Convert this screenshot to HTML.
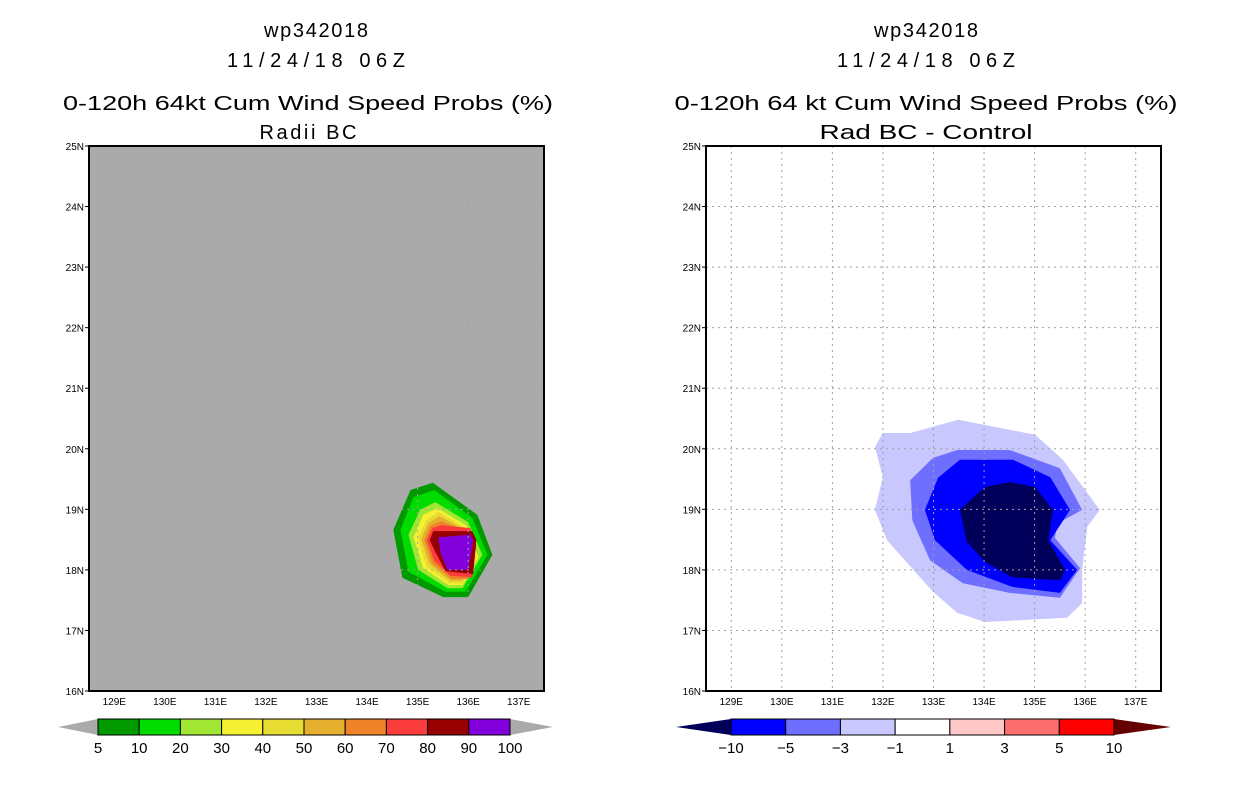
<!DOCTYPE html>
<html><head><meta charset="utf-8"><style>
html,body{margin:0;padding:0;background:#fff;}
svg{display:block;font-family:"Liberation Sans",sans-serif;}
</style></head><body>
<svg id="s" width="1236" height="800" viewBox="0 0 1236 800">
<g font-size="20" text-anchor="middle" fill="#000">
<text x="316" y="37" textLength="104">wp342018</text>
<text x="316" y="67" textLength="178">11/24/18 06Z</text>
<text x="308" y="110" textLength="490" lengthAdjust="spacingAndGlyphs">0-120h 64kt Cum Wind Speed Probs (%)</text>
<text x="308" y="139" textLength="97">Radii BC</text>
</g>
<g font-size="20" text-anchor="middle" fill="#000">
<text x="926" y="37" textLength="104">wp342018</text>
<text x="926" y="67" textLength="178">11/24/18 06Z</text>
<text x="926" y="110" textLength="503" lengthAdjust="spacingAndGlyphs">0-120h 64 kt Cum Wind Speed Probs (%)</text>
<text x="926" y="139" textLength="213" lengthAdjust="spacingAndGlyphs">Rad BC - Control</text>
</g>
<g id="L"></g>
<g id="R"></g>
</svg>
<script>
const lonTicks=[129,130,131,132,133,134,135,136,137];
const latTicks=[16,17,18,19,20,21,22,23,24,25];
const probLevels=[5,10,20,30,40,50,60,70,80,90,100];
const probColors=["#009a00","#00dc00","#a0e632","#f5f032","#e6dc32","#e6af2d","#f08228","#fa3c3c","#960000","#8200dc"];
// probability contour polygons [lon,lat]: area >= level
const prob5=[[135.3,19.44],[136.18,18.91],[136.48,18.25],[136.0,17.55],[135.51,17.55],[134.7,17.87],[134.52,18.66],[134.86,19.32]];
const prob10=[[135.33,19.32],[136.08,18.86],[136.38,18.25],[135.95,17.64],[135.55,17.64],[134.82,17.97],[134.66,18.66],[134.92,19.2]];
const prob20=[[135.35,19.12],[136.0,18.79],[136.28,18.25],[135.89,17.7],[135.59,17.7],[135.01,18.0],[134.82,18.58],[135.05,18.99]];
const prob30=[[135.39,19.02],[135.97,18.73],[136.2,18.21],[135.89,17.75],[135.61,17.75],[135.11,18.03],[134.92,18.54],[135.11,18.91]];
const prob40=[[135.41,18.96],[135.95,18.69],[136.16,18.2],[135.89,17.78],[135.63,17.78],[135.17,18.06],[135.01,18.53],[135.17,18.82]];
const prob50=[[135.43,18.89],[135.93,18.66],[136.12,18.2],[135.89,17.82],[135.65,17.82],[135.23,18.1],[135.07,18.51],[135.21,18.77]];
const prob60=[[135.45,18.8],[135.95,18.66],[136.12,18.3],[136.0,17.85],[135.67,17.85],[135.29,18.11],[135.13,18.49],[135.25,18.73]];
const prob70=[[135.47,18.74],[136.04,18.69],[136.16,18.41],[136.08,17.88],[135.65,17.9],[135.33,18.15],[135.18,18.49],[135.29,18.69]];
const prob80=[[135.31,18.64],[136.08,18.64],[136.16,18.5],[136.1,17.93],[135.55,17.98],[135.35,18.3],[135.24,18.49]];
const prob90=[[135.41,18.54],[136.04,18.58],[136.1,18.49],[136.0,18.0],[135.59,18.0],[135.45,18.28]];
const probPolys=[prob5,prob10,prob20,prob30,prob40,prob50,prob60,prob70,prob80,prob90];

const diffLevels=[-10,-5,-3,-1,1,3,5,10];
const diffColors=["#00005a","#0000ff","#6e6eff","#c8c8ff","#ffffff","#ffc8c8","#ff6e6e","#ff0000","#640000"];
const diffM1=[[133.49,20.48],[135.01,20.23],[135.56,19.82],[136.29,18.99],[136.04,18.71],[135.94,18.0],[135.94,17.45],[135.64,17.21],[134.02,17.14],[133.47,17.29],[132.99,17.64],[132.08,18.49],[131.84,18.99],[132.0,19.53],[131.84,20.03],[132.0,20.26],[132.54,20.26]];
const diffM3=[[133.47,19.98],[134.51,19.98],[135.5,19.68],[135.94,18.99],[135.46,18.77],[135.4,18.53],[135.9,18.03],[135.5,17.54],[134.51,17.62],[133.58,17.78],[132.93,18.16],[132.58,18.82],[132.54,19.48],[132.99,19.85]];
const diffM5=[[133.52,19.82],[134.57,19.82],[135.31,19.53],[135.7,18.99],[135.31,18.49],[135.84,18.0],[135.5,17.62],[134.55,17.72],[133.66,18.0],[133.03,18.49],[132.83,18.99],[133.09,19.52]];
const diffM10=[[134.02,19.37],[134.51,19.45],[135.01,19.37],[135.36,18.99],[135.27,18.49],[135.6,18.0],[135.5,17.83],[134.55,17.88],[134.02,18.13],[133.66,18.46],[133.52,18.99],[133.78,19.19]];
const diffPolys=[diffM1,diffM3,diffM5,diffM10];
const diffPolyColor=[3,2,1,0];

const NS="http://www.w3.org/2000/svg";
function mk(tag,attrs,parent){const e=document.createElementNS(NS,tag);for(const k in attrs)e.setAttribute(k,attrs[k]);parent.appendChild(e);return e;}

function panel(g,x0,bg,polys,cols,gridCol){
  const W=455,y0=146,H=545,lon0=128.5,lon1=137.5,lat0=16,lat1=25;
  const X=l=>x0+(l-lon0)/(lon1-lon0)*W;
  const Y=l=>y0+H-(l-lat0)/(lat1-lat0)*H;
  const bgr=mk('rect',{x:x0,y:y0,width:W,height:H,fill:bg},g);
  
  
  polys.forEach((p,i)=>{
    const pg=mk('polygon',{points:p.map(q=>X(q[0]).toFixed(1)+','+Y(q[1]).toFixed(1)).join(' '),fill:cols[i]},g);
    
    
  });
  lonTicks.forEach(t=>{
    const l=mk('line',{x1:X(t),x2:X(t),y1:y0,y2:y0+H,stroke:gridCol,'stroke-width':1,'stroke-dasharray':'2,4'},g);
    
    
    const tx=mk('text',{x:X(t),y:705,'font-size':10,'text-anchor':'middle'},g);
    tx.textContent=t+'E';
    
    
  });
  latTicks.forEach(t=>{
    if(t>lat0&&t<lat1){
      const l=mk('line',{x1:x0,x2:x0+W,y1:Y(t),y2:Y(t),stroke:gridCol,'stroke-width':1,'stroke-dasharray':'2,4'},g);
      
      
    }
    mk('line',{x1:x0-4,x2:x0,y1:Y(t),y2:Y(t),stroke:'#000','stroke-width':1},g);
    const tx=mk('text',{x:x0-5,y:Y(t)+4,'font-size':10,'text-anchor':'end'},g);
    tx.textContent=t+'N';
    
    
  });
  const fr=mk('rect',{x:x0,y:y0,width:W,height:H,fill:'none',stroke:'#000','stroke-width':2},g);
  
  
}
function colorbar(g,tipL,b0,b1,tipR,labels,boxCols,lowCol,highCol){
  const y=719,h=16,n=labels.length-1,w=(b1-b0)/n;
  const lt=mk('polygon',{points:`${tipL},${y+h/2} ${b0},${y} ${b0},${y+h}`,fill:lowCol},g);
  
  
  const rt=mk('polygon',{points:`${tipR},${y+h/2} ${b1},${y} ${b1},${y+h}`,fill:highCol},g);
  
  
  for(let i=0;i<n;i++){
    const r=mk('rect',{x:b0+i*w,y:y,width:w,height:h,fill:boxCols[i],stroke:'#000','stroke-width':1},g);
    
    
  }
  labels.forEach((v,i)=>{
    const t=mk('text',{x:b0+i*w,y:753,'font-size':15,'text-anchor':'middle'},g);
    t.textContent=v<0?'\u2212'+(-v):v;
    
    
  });
}
const L=document.getElementById('L'),R=document.getElementById('R');
panel(L,89,'#aaaaaa',probPolys,probColors,'#a4a4a4');
panel(R,706,'#ffffff',diffPolys,diffPolyColor.map(i=>diffColors[i]),'#a0a0a0');
colorbar(L,58,98,510,553,probLevels,probColors,'#aaaaaa','#aaaaaa');
colorbar(R,676,731,1114,1171,diffLevels,diffColors.slice(1,8),diffColors[0],diffColors[8]);
</script>
</body></html>
